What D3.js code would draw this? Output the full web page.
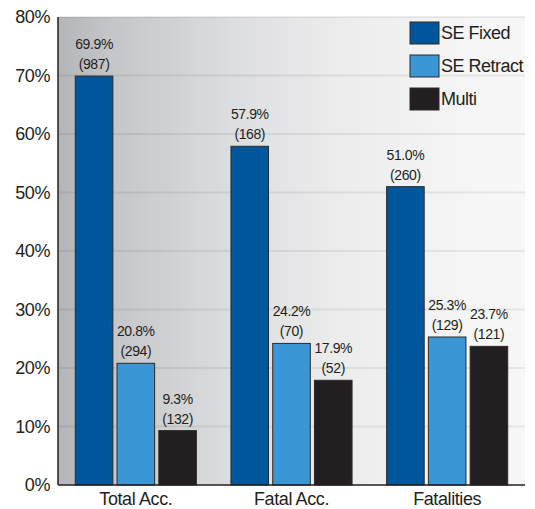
<!DOCTYPE html>
<html>
<head>
<meta charset="utf-8">
<script src="https://cdn.jsdelivr.net/npm/d3@7"></script>
<style>
  body { margin: 0; background: #fff; }
  svg { display: block; font-family: 'Liberation Sans', Arial, sans-serif; }
</style>
</head>
<body>
<svg id="chart" width="535" height="509"></svg>
<script>
// data
const categories = ['Total Acc.', 'Fatal Acc.', 'Fatalities'];
const seriesNames = ['SE Fixed', 'SE Retract', 'Multi'];
const seriesColors = ['#00569b', '#3a96d4', '#231f20'];
const percents = [
  [69.9, 20.8, 9.3],
  [57.9, 24.2, 17.9],
  [51.0, 25.3, 23.7],
];
const counts = [
  [987, 294, 132],
  [168, 70, 52],
  [260, 129, 121],
];
const yTicks = [0, 10, 20, 30, 40, 50, 60, 70, 80];

const svg = d3.select('#chart');
const margin = { top: 17, right: 10, bottom: 24, left: 58 };
const W = 535 - margin.left - margin.right;
const H = 509 - margin.top - margin.bottom;

const x0 = d3.scaleBand().domain(categories).range([0, W]).paddingInner(0.222).paddingOuter(0.111);
const x1 = d3.scaleBand().domain(seriesNames).range([0, x0.bandwidth()]).paddingInner(0.1);
const y = d3.scaleLinear().domain([0, 80]).range([H, 0]);

// background gradient, darker on the left
const grad = svg.append('defs').append('linearGradient')
    .attr('id', 'bg').attr('x1', 0).attr('x2', 1).attr('y1', 0).attr('y2', 0);
[[0, '#b4b5b8'], [0.11, '#c4c5c7'], [0.37, '#dcdddf'], [0.6, '#ececed'], [0.9, '#f6f6f6'], [1, '#f7f7f7']]
  .forEach(([o, c]) => grad.append('stop').attr('offset', o).attr('stop-color', c));

const g = svg.append('g').attr('transform', `translate(${margin.left},${margin.top})`);

g.append('rect').attr('width', W).attr('height', H).attr('fill', 'url(#bg)');

// gridlines
g.append('g').selectAll('line').data(yTicks.filter(d => d > 0)).enter().append('line')
    .attr('x1', 0).attr('x2', W)
    .attr('y1', d => y(d)).attr('y2', d => y(d))
    .attr('stroke', '#000').attr('stroke-opacity', 0.07).attr('stroke-width', 2);

// y labels
g.append('g').selectAll('text').data(yTicks).enter().append('text')
    .attr('x', -8).attr('y', d => y(d)).attr('dy', '0.36em')
    .attr('text-anchor', 'end').style('font-size', '18px').style('letter-spacing', '-0.4px')
    .attr('fill', '#231f20')
    .text(d => d + '%');

// bars
const groups = g.selectAll('g.grp').data(categories).enter().append('g')
    .attr('class', 'grp')
    .attr('transform', d => `translate(${x0(d)},0)`);

const perBar = groups.selectAll('g.bar')
  .data((c, i) => seriesNames.map((s, j) => ({ s, j, v: percents[i][j], n: counts[i][j] })))
  .enter().append('g').attr('class', 'bar');

perBar.append('rect')
    .attr('x', d => x1(d.s))
    .attr('y', d => y(d.v))
    .attr('width', x1.bandwidth())
    .attr('height', d => H - y(d.v))
    .attr('fill', d => seriesColors[d.j])
    .attr('stroke', '#2b2b2b').attr('stroke-width', 1);

const lbl = perBar.append('text')
    .attr('text-anchor', 'middle')
    .style('font-size', '14px').style('letter-spacing', '-0.4px').attr('fill', '#231f20');
lbl.append('tspan')
    .attr('x', d => x1(d.s) + x1.bandwidth() / 2)
    .attr('y', d => y(d.v) - 27)
    .text(d => d.v.toFixed(1) + '%');
lbl.append('tspan')
    .attr('x', d => x1(d.s) + x1.bandwidth() / 2)
    .attr('y', d => y(d.v) - 7)
    .text(d => `(${d.n})`);

// axes lines
g.append('line').attr('x1', 0).attr('x2', 0).attr('y1', 0).attr('y2', H)
    .attr('stroke', '#231f20').attr('stroke-width', 1.5);
g.append('line').attr('x1', 0).attr('x2', W).attr('y1', H).attr('y2', H)
    .attr('stroke', '#231f20').attr('stroke-width', 1.5);

// category labels
g.append('g').selectAll('text').data(categories).enter().append('text')
    .attr('x', d => x0(d) + x0.bandwidth() / 2)
    .attr('y', H + 20)
    .attr('text-anchor', 'middle').style('font-size', '18px').style('letter-spacing', '-0.4px')
    .attr('fill', '#231f20')
    .text(d => d);

// legend
const legend = svg.append('g').attr('transform', 'translate(410,22)');
const item = legend.selectAll('g').data(seriesNames).enter().append('g')
    .attr('transform', (d, i) => `translate(0,${i * 33})`);
item.append('rect').attr('width', 29).attr('height', 22)
    .attr('fill', (d, i) => seriesColors[i]).attr('stroke', '#2b2b2b');
item.append('text').attr('x', 31).attr('y', 17)
    .style('font-size', '18px').style('letter-spacing', '-0.5px').attr('fill', '#231f20')
    .text(d => d);
</script>
</body>
</html>
